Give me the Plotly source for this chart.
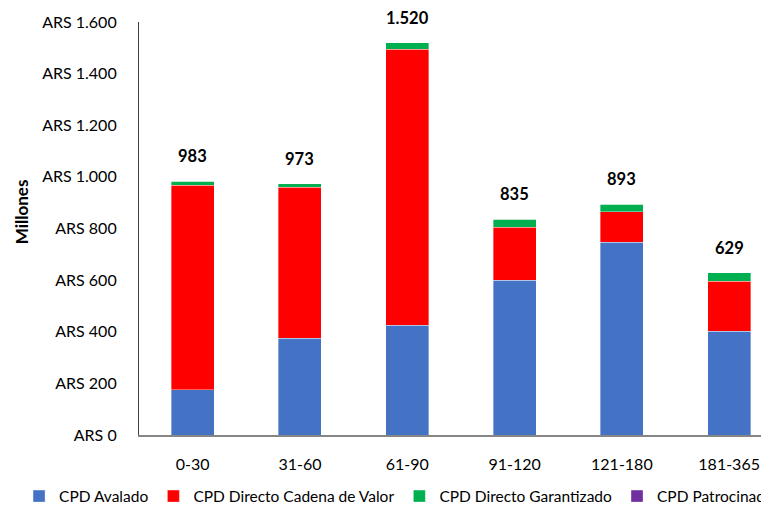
import plotly.graph_objects as go

categories = ["0-30", "31-60", "61-90", "91-120", "121-180", "181-365"]
avalado = [176, 375, 425, 599, 746, 401]
cadena_valor = [791, 584, 1070, 206, 118, 195]
garantizado = [16, 14, 25, 30, 29, 33]
patrocinado = [0, 0, 0, 0, 0, 0]
totals = [983, 973, 1520, 835, 893, 629]

FONT = "Lato"
fig = go.Figure()
series = [
    ("CPD Avalado", avalado, "#4472C4"),
    ("CPD Directo Cadena de Valor", cadena_valor, "#FF0000"),
    ("CPD Directo Garantizado", garantizado, "#00B050"),
    ("CPD Patrocinado", patrocinado, "#7030A0"),
]
for name, vals, col in series:
    fig.add_trace(go.Bar(x=categories, y=vals, name=name, marker_color=col,
                         marker_line_width=0.6, marker_line_color="rgba(255,255,255,0.6)"))

for c, t in zip(categories, totals):
    fig.add_annotation(x=c, y=t, text="<b>" + f"{t:,}".replace(",", ".") + "</b>",
                       showarrow=False, yshift=25, font=dict(family=FONT, size=16.5, color="#000"))

fig.add_annotation(xref="paper", yref="paper", x=-0.183, xanchor="center", y=0.54, yanchor="middle",
                   text="<b>Millones</b>", textangle=-90, showarrow=False,
                   font=dict(family=FONT, size=17, color="#000"))

fig.update_layout(
    barmode="stack",
    bargap=0.6,
    width=769, height=508,
    margin=dict(l=131, r=0, t=14, b=80.5, autoexpand=False),
    plot_bgcolor="white", paper_bgcolor="white",
    separators=",.",
    font=dict(family=FONT, size=16, color="#000"),
    showlegend=True,
    legend=dict(orientation="h", x=-0.188, xanchor="left", y=-0.149, yanchor="middle",
                font=dict(family=FONT, size=15.5), itemwidth=30, traceorder="normal"),
    xaxis=dict(range=[-0.5, 5.446], showline=True, linecolor="#868686", linewidth=1.5,
               ticks="outside", ticklen=14, tickcolor="rgba(0,0,0,0)", automargin=False,
               tickfont=dict(family=FONT, size=16), showgrid=False),
    yaxis=dict(range=[0, 1600], dtick=200, tickprefix="ARS ", tickformat=",d",
               showline=True, linecolor="#404040", linewidth=1.2, showgrid=False,
               ticks="outside", ticklen=18, tickcolor="rgba(0,0,0,0)", automargin=False,
               tickfont=dict(family=FONT, size=16)),
)
fig.write_html("out.html")
